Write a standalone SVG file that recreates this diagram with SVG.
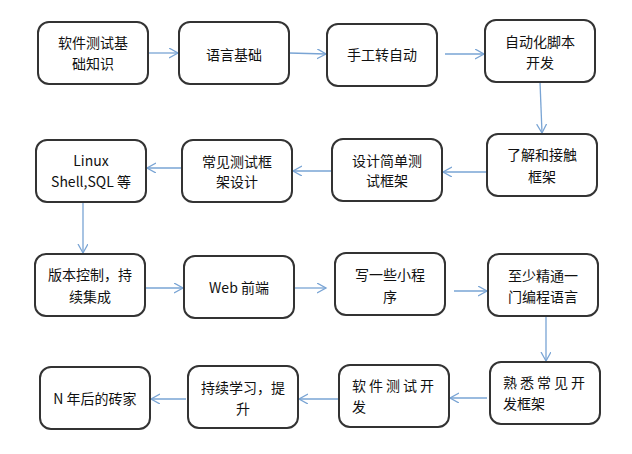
<svg xmlns="http://www.w3.org/2000/svg" width="632" height="454" viewBox="0 0 632 454">
<style>
.box{fill:#fff;stroke:#333;stroke-width:2}
.t{font-family:"Noto Sans CJK SC","Noto Sans",sans-serif;font-size:14px;fill:#111;text-anchor:middle}
.l{text-anchor:start}
.c{fill:none;stroke:#79a4d4;stroke-width:1.3}
</style>
<defs>
<marker id="ah" markerUnits="userSpaceOnUse" markerWidth="12" markerHeight="12" refX="9" refY="5" orient="auto">
<path d="M0,0 L9,5 L0,10" fill="none" stroke="#79a4d4" stroke-width="1.3"/>
</marker>
</defs>
<rect width="632" height="454" fill="#fff"/>
<g id="connectors">
<line class="c" x1="148" y1="53" x2="178" y2="53" marker-end="url(#ah)"/>
<line class="c" x1="289" y1="53" x2="326" y2="54" marker-end="url(#ah)"/>
<line class="c" x1="445" y1="54" x2="484" y2="54" marker-end="url(#ah)"/>
<line class="c" x1="540" y1="82" x2="542" y2="133" marker-end="url(#ah)"/>
<line class="c" x1="486" y1="172" x2="443" y2="172" marker-end="url(#ah)"/>
<line class="c" x1="332" y1="171" x2="293" y2="171" marker-end="url(#ah)"/>
<line class="c" x1="187" y1="168" x2="147" y2="168" marker-end="url(#ah)"/>
<line class="c" x1="83" y1="202" x2="83" y2="253" marker-end="url(#ah)"/>
<line class="c" x1="145" y1="288" x2="183" y2="288" marker-end="url(#ah)"/>
<line class="c" x1="294" y1="288" x2="326" y2="288" marker-end="url(#ah)"/>
<line class="c" x1="454" y1="291" x2="487" y2="291" marker-end="url(#ah)"/>
<line class="c" x1="546" y1="316" x2="546" y2="361" marker-end="url(#ah)"/>
<line class="c" x1="487" y1="398" x2="450" y2="398" marker-end="url(#ah)"/>
<line class="c" x1="339" y1="399" x2="299" y2="399" marker-end="url(#ah)"/>
<line class="c" x1="186" y1="399" x2="151" y2="399" marker-end="url(#ah)"/>
</g>
<g id="n1"><rect class="box" x="38" y="22" width="110" height="62" rx="11"/><text class="t" x="93" y="48">软件测试基</text><text class="t" x="93" y="69">础知识</text></g>
<g id="n2"><rect class="box" x="179" y="22" width="110" height="62" rx="11"/><text class="t" x="234" y="60">语言基础</text></g>
<g id="n3"><rect class="box" x="327" y="24" width="110" height="62" rx="11"/><text class="t" x="382" y="60">手工转自动</text></g>
<g id="n4"><rect class="box" x="485" y="20" width="110" height="62" rx="11"/><text class="t" x="540" y="47">自动化脚本</text><text class="t" x="540" y="68">开发</text></g>
<g id="n5"><rect class="box" x="487" y="134" width="110" height="62" rx="11"/><text class="t" x="542" y="160">了解和接触</text><text class="t" x="542" y="182">框架</text></g>
<g id="n6"><rect class="box" x="332" y="139" width="110" height="62" rx="11"/><text class="t" x="387" y="166">设计简单测</text><text class="t" x="387" y="186">试框架</text></g>
<g id="n7"><rect class="box" x="182" y="140" width="110" height="62" rx="11"/><text class="t" x="237" y="167">常见测试框</text><text class="t" x="237" y="187">架设计</text></g>
<g id="n8"><rect class="box" x="36" y="140" width="110" height="62" rx="11"/><text class="t" x="91" y="166" font-size="12">Linux</text><text class="t" x="91" y="187" font-size="12">Shell,SQL <tspan font-size="14">等</tspan></text></g>
<g id="n9"><rect class="box" x="35" y="254" width="110" height="62" rx="11"/><text class="t" x="90" y="280">版本控制，持</text><text class="t" x="90" y="302">续集成</text></g>
<g id="n10"><rect class="box" x="184" y="256" width="110" height="62" rx="11"/><text class="t" x="239" y="293">Web 前端</text></g>
<g id="n11"><rect class="box" x="335" y="253" width="110" height="62" rx="11"/><text class="t" x="390" y="280">写一些小程</text><text class="t" x="390" y="302">序</text></g>
<g id="n12"><rect class="box" x="488" y="254" width="110" height="62" rx="11"/><text class="t" x="543" y="281">至少精通一</text><text class="t" x="543" y="302">门编程语言</text></g>
<g id="n13"><rect class="box" x="490" y="362" width="110" height="62" rx="11"/><text class="t l" x="503" y="388" letter-spacing="3">熟悉常见开</text><text class="t l" x="503" y="409">发框架</text></g>
<g id="n14"><rect class="box" x="339" y="365" width="110" height="62" rx="11"/><text class="t l" x="352" y="391" letter-spacing="3">软件测试开</text><text class="t l" x="352" y="412">发</text></g>
<g id="n15"><rect class="box" x="188" y="366" width="110" height="62" rx="11"/><text class="t" x="243" y="393">持续学习，提</text><text class="t" x="243" y="414">升</text></g>
<g id="n16"><rect class="box" x="40" y="367" width="110" height="62" rx="11"/><text class="t" x="95" y="404">N 年后的砖家</text></g>
</svg>
